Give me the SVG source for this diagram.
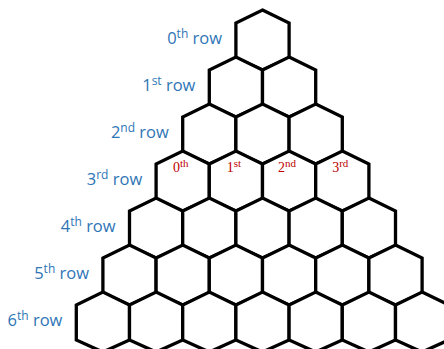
<svg xmlns="http://www.w3.org/2000/svg" xmlns:xlink="http://www.w3.org/1999/xlink" width="444" height="349" viewBox="0 0 444 349">
<style>
.hex{fill:#fff;stroke:#000;stroke-width:3.3;stroke-linejoin:miter}
.rl{font-family:"Open Sans","Noto Sans",sans-serif;font-size:16.5px;fill:#2e75b6;text-anchor:end}
.rl .s{font-size:12px}
.pl{font-family:"Liberation Serif","DejaVu Serif",serif;font-size:14px;fill:#c00000;text-anchor:middle}
.pl .s{font-size:11px}
</style>
<defs>
<path id="h" class="hex" d="M0,0 L26.6,13 L26.6,48 L0,60 L-26.6,48 L-26.6,13 Z"/>
</defs>
<rect width="444" height="349" fill="#fff"/>
<g id="connectors"></g>
<g id="hex-0-0"><use href="#h" x="262.5" y="10"/></g>
<g id="hex-1-0"><use href="#h" x="235.9" y="57"/></g>
<g id="hex-1-1"><use href="#h" x="289.1" y="57"/></g>
<g id="hex-2-0"><use href="#h" x="209.3" y="104"/></g>
<g id="hex-2-1"><use href="#h" x="262.5" y="104"/></g>
<g id="hex-2-2"><use href="#h" x="315.7" y="104"/></g>
<g id="hex-3-0"><use href="#h" x="182.7" y="151"/></g>
<g id="hex-3-1"><use href="#h" x="235.9" y="151"/></g>
<g id="hex-3-2"><use href="#h" x="289.1" y="151"/></g>
<g id="hex-3-3"><use href="#h" x="342.3" y="151"/></g>
<g id="hex-4-0"><use href="#h" x="156.1" y="198"/></g>
<g id="hex-4-1"><use href="#h" x="209.3" y="198"/></g>
<g id="hex-4-2"><use href="#h" x="262.5" y="198"/></g>
<g id="hex-4-3"><use href="#h" x="315.7" y="198"/></g>
<g id="hex-4-4"><use href="#h" x="368.9" y="198"/></g>
<g id="hex-5-0"><use href="#h" x="129.5" y="245"/></g>
<g id="hex-5-1"><use href="#h" x="182.7" y="245"/></g>
<g id="hex-5-2"><use href="#h" x="235.9" y="245"/></g>
<g id="hex-5-3"><use href="#h" x="289.1" y="245"/></g>
<g id="hex-5-4"><use href="#h" x="342.3" y="245"/></g>
<g id="hex-5-5"><use href="#h" x="395.5" y="245"/></g>
<g id="hex-6-0"><use href="#h" x="102.9" y="292"/></g>
<g id="hex-6-1"><use href="#h" x="156.1" y="292"/></g>
<g id="hex-6-2"><use href="#h" x="209.3" y="292"/></g>
<g id="hex-6-3"><use href="#h" x="262.5" y="292"/></g>
<g id="hex-6-4"><use href="#h" x="315.7" y="292"/></g>
<g id="hex-6-5"><use href="#h" x="368.9" y="292"/></g>
<g id="hex-6-6"><use href="#h" x="422.1" y="292"/></g>
<g id="row-labels">
<text class="rl" x="222" y="44">0<tspan class="s" dy="-6">th</tspan><tspan dy="6"> row</tspan></text>
<text class="rl" x="195.4" y="91">1<tspan class="s" dy="-6">st</tspan><tspan dy="6"> row</tspan></text>
<text class="rl" x="168.8" y="138">2<tspan class="s" dy="-6">nd</tspan><tspan dy="6"> row</tspan></text>
<text class="rl" x="142.2" y="185">3<tspan class="s" dy="-6">rd</tspan><tspan dy="6"> row</tspan></text>
<text class="rl" x="115.6" y="232">4<tspan class="s" dy="-6">th</tspan><tspan dy="6"> row</tspan></text>
<text class="rl" x="89" y="279">5<tspan class="s" dy="-6">th</tspan><tspan dy="6"> row</tspan></text>
<text class="rl" x="62.4" y="326">6<tspan class="s" dy="-6">th</tspan><tspan dy="6"> row</tspan></text>
</g>
<g id="position-labels">
<text class="pl" x="180.7" y="171.5">0<tspan class="s" dy="-5">th</tspan></text>
<text class="pl" x="233.9" y="171.5">1<tspan class="s" dy="-5">st</tspan></text>
<text class="pl" x="287.1" y="171.5">2<tspan class="s" dy="-5">nd</tspan></text>
<text class="pl" x="340.3" y="171.5">3<tspan class="s" dy="-5">rd</tspan></text>
</g>
</svg>
